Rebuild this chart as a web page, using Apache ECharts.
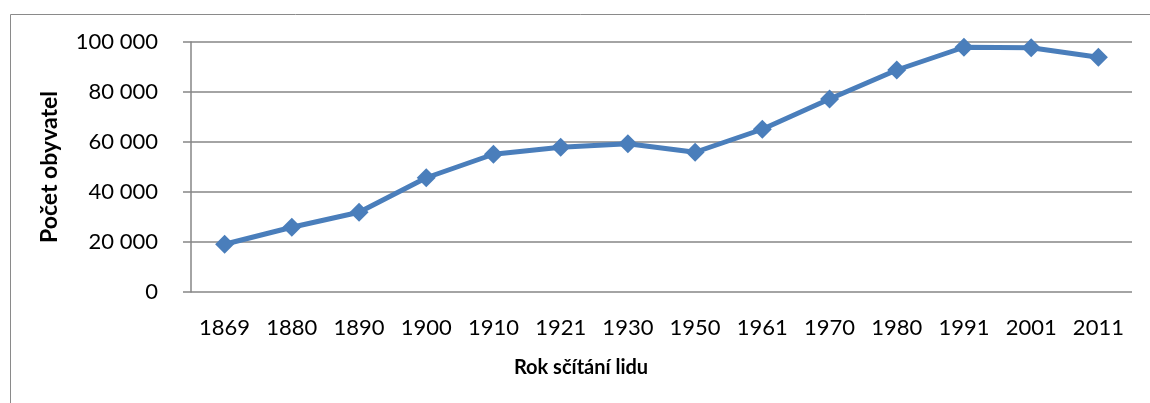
<!DOCTYPE html>
<html>
<head>
<meta charset="utf-8">
<script src="https://cdn.jsdelivr.net/npm/echarts@6/dist/echarts.min.js"></script>
<style>
  html, body { margin: 0; padding: 0; background: #fff; }
  #main { width: 1150px; height: 403px; }
</style>
</head>
<body>
<div id="main"></div>
<script>
var years = ['1869', '1880', '1890', '1900', '1910', '1921', '1930', '1950', '1961', '1970', '1980', '1991', '2001', '2011'];
var population = [19100, 25900, 31900, 45700, 55100, 57900, 59300, 55900, 65100, 77200, 88800, 97900, 97700, 93900];
var yTicks = [0, 20000, 40000, 60000, 80000, 100000];

var chartDom = document.getElementById('main');
var myChart = echarts.init(chartDom);
var fontName = 'Lato';

var option = {
    animation: false,
    grid: {
        left: 191,
        right: 18,
        top: 42,
        bottom: 111
    },
    graphic: [
        {
            type: 'rect',
            left: 8,
            top: 12,
            shape: { width: 1200, height: 500 },
            style: { fill: 'none', stroke: '#8a8a8a', lineWidth: 1 }
        },
        {
            type: 'text',
            x: 581,
            y: 368,
            style: {
                text: 'Rok sčítání lidu',
                fontFamily: fontName,
                fontSize: 20,
                fontWeight: 'bold',
                fill: '#000',
                align: 'center',
                verticalAlign: 'middle'
            }
        }
    ],
    xAxis: {
        type: 'category',
        data: years,
        boundaryGap: true,
        axisLine: { show: false },
        axisTick: { show: false },
        axisLabel: {
            color: '#000',
            fontFamily: fontName,
            fontSize: 22,
            margin: 25
        }
    },
    yAxis: {
        type: 'value',
        min: yTicks[0],
        max: yTicks[yTicks.length - 1],
        interval: 20000,
        name: 'Počet obyvatel',
        nameLocation: 'middle',
        nameGap: 130,
        nameTextStyle: {
            color: '#000',
            fontFamily: fontName,
            fontSize: 23,
            fontWeight: 'bold'
        },
        axisLine: {
            show: true,
            lineStyle: { color: '#868686', width: 1.5 }
        },
        axisTick: {
            show: true,
            length: 8,
            lineStyle: { color: '#868686', width: 1.5 }
        },
        splitLine: {
            show: true,
            lineStyle: { color: '#868686', width: 1.5 }
        },
        axisLabel: {
            color: '#000',
            fontFamily: fontName,
            fontSize: 22,
            margin: 33,
            formatter: function (v) {
                return String(v).replace(/\B(?=(\d{3})+(?!\d))/g, ' ');
            }
        }
    },
    series: [
        {
            type: 'line',
            data: population,
            smooth: false,
            symbol: 'diamond',
            symbolSize: [19, 19],
            lineStyle: { color: '#4a7ebb', width: 5 },
            itemStyle: { color: '#4a7ebb' }
        }
    ]
};
myChart.setOption(option);
</script>
</body>
</html>
